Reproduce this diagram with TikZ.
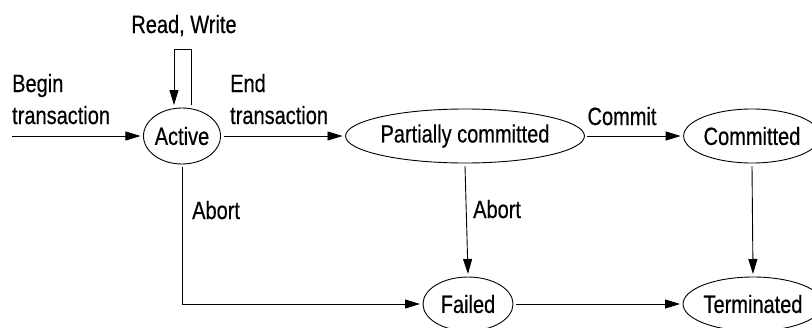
\documentclass[tikz,border=0pt]{standalone}
\usepackage{fontspec}
\setmainfont{Liberation Sans}[FakeStretch=0.8,FakeBold=0.4]
\usetikzlibrary{shapes.geometric,arrows.meta,calc}
\begin{document}
\begin{tikzpicture}[x=1pt,y=-1pt,
  state/.style={draw, ellipse, line width=0.9pt, inner sep=0pt, outer sep=3pt, font=\fontsize{25}{30}\selectfont},
  lbl/.style={inner sep=0pt, anchor=base west, align=left, font=\fontsize{25}{32}\selectfont},
  arr/.style={line width=0.9pt, -{Triangle[length=15pt,width=9pt]}},
  ln/.style={line width=0.9pt}]
\useasboundingbox (0,0) rectangle (812,327);
\node[state, minimum width=76pt, minimum height=56pt] (act) at (182,136) {Active};
\node[state, minimum width=220pt, minimum height=54pt] (pc) at (465,136) {Partially committed};
\node[state, minimum width=126pt, minimum height=54pt] (com) at (752,136) {Committed};
\node[state, minimum width=90pt, minimum height=54pt] (fail) at (468,304) {Failed};
\node[state, minimum width=138pt, minimum height=54pt] (term) at (753,304) {Terminated};
\coordinate (start) at (12,136);
\coordinate (rwR) at (191,49);
\coordinate (rwL) at (174,49);
\draw[arr] (start) -- (act.west);
\draw[arr] (act.north -| rwR) -- (rwR) -- (rwL) -- (act.north -| rwL);
\draw[arr] (act.east) -- (pc.west);
\draw[arr] (pc.east) -- (com.west);
\draw[arr] (pc.south) -- (fail.north);
\draw[arr] (com.south) -- (term.north);
\draw[arr] (act.south) |- (fail.west);
\draw[arr] (fail.east) -- (term.west);
\node[lbl] (lb1) at (12,124) {Begin\\transaction};
\node[lbl] (lb2) at (230,124) {End\\transaction};
\node[lbl, anchor=base] (lb3) at (184,33) {Read, Write};
\node[lbl, anchor=base] (lb4) at (622,125) {Commit};
\node[lbl] (lb5) at (192,219) {Abort};
\node[lbl] (lb6) at (473,218) {Abort};
\end{tikzpicture}
\end{document}
